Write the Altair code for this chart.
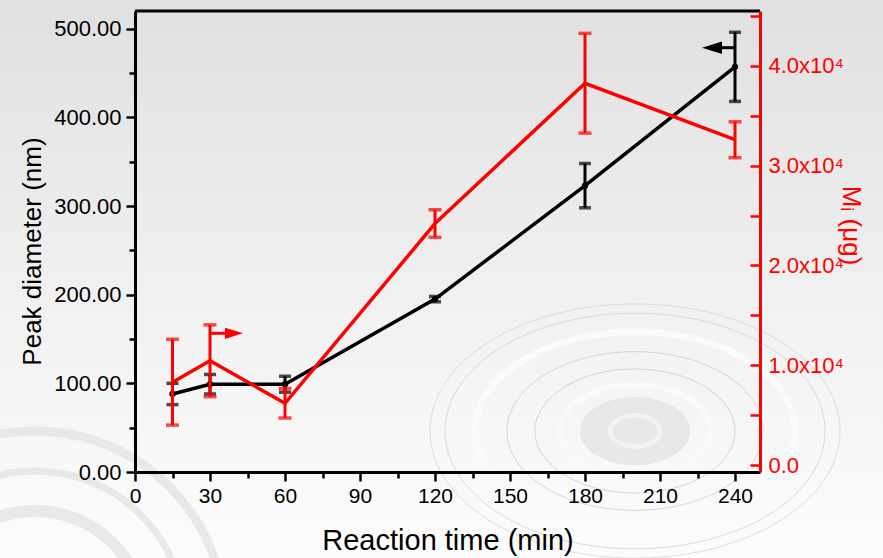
import altair as alt
import pandas as pd

# ---- data ----
time_min = [15, 30, 60, 120, 180, 240]
peak_diam = [88, 99, 99, 195, 323, 457]          # nm (left axis)
peak_err = [12, 11, 9, 3, 25, 39]
mw = [8300, 10450, 6190, 24200, 38260, 32600]     # ug (right axis)
mw_err = [4300, 3600, 1480, 1380, 5000, 1800]

x_ticks = list(range(0, 241, 15))
left_ticks = list(range(0, 501, 50))
right_ticks = list(range(0, 45001, 5000))

# arrows indicating which axis each series belongs to
black_arrow_line_x = [240, 233]
black_arrow_y = 478.6
black_arrow_head_x = 230.8
red_arrow_line_x = [30, 37]
red_arrow_y = 13200
red_arrow_head_x = 39.6

FONT = "Liberation Sans"
RED = "#ff0000"
ARROW_PATH = "M 1 0 L -1 -0.62 L -1 0.62 Z"
ARROW_PATH_L = "M -1 0 L 1 -0.62 L 1 0.62 Z"

df = pd.DataFrame({
    "t": time_min,
    "d": peak_diam,
    "d_lo": [v - e for v, e in zip(peak_diam, peak_err)],
    "d_hi": [v + e for v, e in zip(peak_diam, peak_err)],
    "m": mw,
    "m_lo": [v - e for v, e in zip(mw, mw_err)],
    "m_hi": [v + e for v, e in zip(mw, mw_err)],
})

x_scale = alt.Scale(domain=[0, 250], nice=False, zero=False)
x_axis = alt.Axis(
    values=x_ticks,
    labelExpr="datum.value % 30 === 0 ? datum.label : ''",
    title="Reaction time (min)",
    grid=False, zindex=2,
    domainColor="black", domainWidth=3,
    tickColor="black", tickWidth=2.5,
    tickSize=alt.expr("datum.value % 30 === 0 ? 9 : 6"),
    labelFont=FONT, labelFontSize=21, labelColor="black", labelPadding=4,
    labelFlush=False, labelOverlap=False,
    titleFont=FONT, titleFontSize=29, titleFontWeight="normal", titleColor="black",
    titleBaseline="alphabetic", titleY=77,
)

def X(field="t"):
    return alt.X(f"{field}:Q", scale=x_scale, axis=x_axis)

l_scale = alt.Scale(domain=[0, 520], nice=False, zero=False)
l_axis = alt.Axis(
    values=left_ticks,
    labelExpr="datum.value % 100 === 0 ? format(datum.value, '.2f') : ''",
    title="Peak diameter (nm)",
    grid=False, orient="left", zindex=2,
    domainColor="black", domainWidth=3,
    tickColor="black", tickWidth=2.5,
    tickSize=alt.expr("datum.value % 100 === 0 ? 9 : 6"),
    labelFont=FONT, labelFontSize=22, labelColor="black", labelPadding=5,
    labelFlush=False, labelOverlap=False,
    titleFont=FONT, titleFontSize=26, titleFontWeight="normal", titleColor="black",
    titleAngle=270, titleAlign="center", titleBaseline="middle",
    titleX=-103, titleY=240,
)

def YL(field):
    return alt.Y(f"{field}:Q", scale=l_scale, axis=l_axis)

r_scale = alt.Scale(domain=[-700, 45500], nice=False, zero=False)
r_axis = alt.Axis(
    values=right_ticks,
    labelExpr="datum.value === 0 ? '0.0' : (datum.value % 10000 === 0 ? format(datum.value / 10000, '.1f') + 'x10\u2074' : '')",
    title="M\u1d62 (\u03bcg)",
    grid=False, orient="right", zindex=2,
    domainColor=RED, domainWidth=3,
    tickColor=RED, tickWidth=2.5,
    tickSize=alt.expr("-10"),
    labelFont=FONT, labelFontSize=22, labelColor=RED, labelPadding=18,
    labelFlush=False, labelOverlap=False,
    titleFont=FONT, titleFontSize=26, titleFontWeight="normal", titleColor=RED,
    titleAngle=90, titleAlign="center", titleBaseline="middle",
    titleX=90, titleY=214,
)

def YR(field):
    return alt.Y(f"{field}:Q", scale=r_scale, axis=r_axis)

base = alt.Chart(df)
one = alt.Data(values=[{"a": 1}])

# ---- background gradient, decorative ripples and top frame line ----
bg = alt.Chart(one).mark_rect(
    color=alt.LinearGradient(
        gradient="linear",
        stops=[alt.GradientStop(color="#e0e0e0", offset=0),
               alt.GradientStop(color="#f1f1f1", offset=0.55),
               alt.GradientStop(color="#fcfcfc", offset=1)],
        x1=0, x2=0, y1=0, y2=1),
    clip=False,
).encode(x=alt.value(-135), x2=alt.value(748), y=alt.value(-11), y2=alt.value(547))

ELLIPSE = "M -1 0 A 1 0.62 0 1 0 1 0 A 1 0.62 0 1 0 -1 0 Z"
center_blob = alt.Chart(one).mark_point(
    shape=ELLIPSE, filled=True, color="#e4e4e4", opacity=0.8, size=(2 * 55) ** 2, clip=False
).encode(x=alt.value(500), y=alt.value(420))
ripple_r = [25, 75, 100, 128, 160, 190, 205]
ripple_w = [5, 6, 0.8, 0.8, 7, 0.8, 0.8]
ripple_c = ["#f4f4f4", "#fafafa", "#c6c6c6", "#cacaca", "#fbfbfb", "#cfcfcf", "#d4d4d4"]
ripples = [
    alt.Chart(one).mark_point(shape=ELLIPSE, filled=False, color=c, strokeWidth=w,
                              opacity=0.9, size=(2 * r) ** 2, clip=False)
    .encode(x=alt.value(500), y=alt.value(420))
    for r, w, c in zip(ripple_r, ripple_w, ripple_c)
]
CIRCLE = "M -1 0 A 1 1 0 1 0 1 0 A 1 1 0 1 0 -1 0 Z"
left_r = [110, 150, 190]
left_w = [12, 7, 9]
left_ripples = [
    alt.Chart(one).mark_point(shape=CIRCLE, filled=False, color="#e2e2e2", strokeWidth=w,
                              opacity=0.7, size=(2 * r) ** 2, clip=False)
    .encode(x=alt.value(-100), y=alt.value(610))
    for r, w in zip(left_r, left_w)
]

top_frame = alt.Chart(one).mark_rule(
    color="black", strokeWidth=3
).encode(x=alt.value(0), x2=alt.value(625), y=alt.value(0))

# ---- black series (left axis) ----
b_line = base.mark_line(color="black", strokeWidth=3.5).encode(x=X(), y=YL("d"))
b_rule = base.mark_rule(color="black", strokeWidth=3).encode(x=X(), y=YL("d_lo"), y2="d_hi")
b_cap_lo = base.mark_tick(color="black", orient="horizontal", size=12, thickness=3.5).encode(x=X(), y=YL("d_lo"))
b_cap_hi = base.mark_tick(color="black", orient="horizontal", size=12, thickness=3.5).encode(x=X(), y=YL("d_hi"))
b_pts = base.mark_point(color="black", filled=True, size=40, opacity=1).encode(x=X(), y=YL("d"))

ba_df = pd.DataFrame({"t": black_arrow_line_x, "v": [black_arrow_y] * len(black_arrow_line_x)})
ba_line = alt.Chart(ba_df).mark_line(color="black", strokeWidth=3).encode(x=X(), y=YL("v"))
bah_df = pd.DataFrame({"t": [black_arrow_head_x], "v": [black_arrow_y]})
ba_head = alt.Chart(bah_df).mark_point(shape=ARROW_PATH_L, filled=True, color="black",
                                       size=400, opacity=1).encode(x=X(), y=YL("v"))

left = alt.layer(b_line, b_rule, b_cap_lo, b_cap_hi, b_pts, ba_line, ba_head)

# ---- red series (right axis) ----
r_line = base.mark_line(color=RED, strokeWidth=3.5).encode(x=X(), y=YR("m"))
r_rule = base.mark_rule(color=RED, strokeWidth=3).encode(x=X(), y=YR("m_lo"), y2="m_hi")
r_cap_lo = base.mark_tick(color=RED, orient="horizontal", size=13, thickness=3.5).encode(x=X(), y=YR("m_lo"))
r_cap_hi = base.mark_tick(color=RED, orient="horizontal", size=13, thickness=3.5).encode(x=X(), y=YR("m_hi"))

ra_df = pd.DataFrame({"t": red_arrow_line_x, "v": [red_arrow_y] * len(red_arrow_line_x)})
ra_line = alt.Chart(ra_df).mark_line(color=RED, strokeWidth=3).encode(x=X(), y=YR("v"))
rah_df = pd.DataFrame({"t": [red_arrow_head_x], "v": [red_arrow_y]})
ra_head = alt.Chart(rah_df).mark_point(shape=ARROW_PATH, filled=True, color=RED,
                                       size=324, opacity=1).encode(x=X(), y=YR("v"))

right = alt.layer(r_line, r_rule, r_cap_lo, r_cap_hi, ra_line, ra_head)

chart = alt.layer(bg, *left_ripples, center_blob, *ripples, top_frame, left, right).resolve_scale(
    y="independent"
).properties(
    width=625, height=461,
    autosize=alt.AutoSizeParams(type="none"),
    padding={"left": 135, "top": 11, "right": 123, "bottom": 86},
    background="#f0f0f0",
).configure_view(stroke=None)

chart.save("out.html", embed_options={"renderer": "svg", "actions": False})
